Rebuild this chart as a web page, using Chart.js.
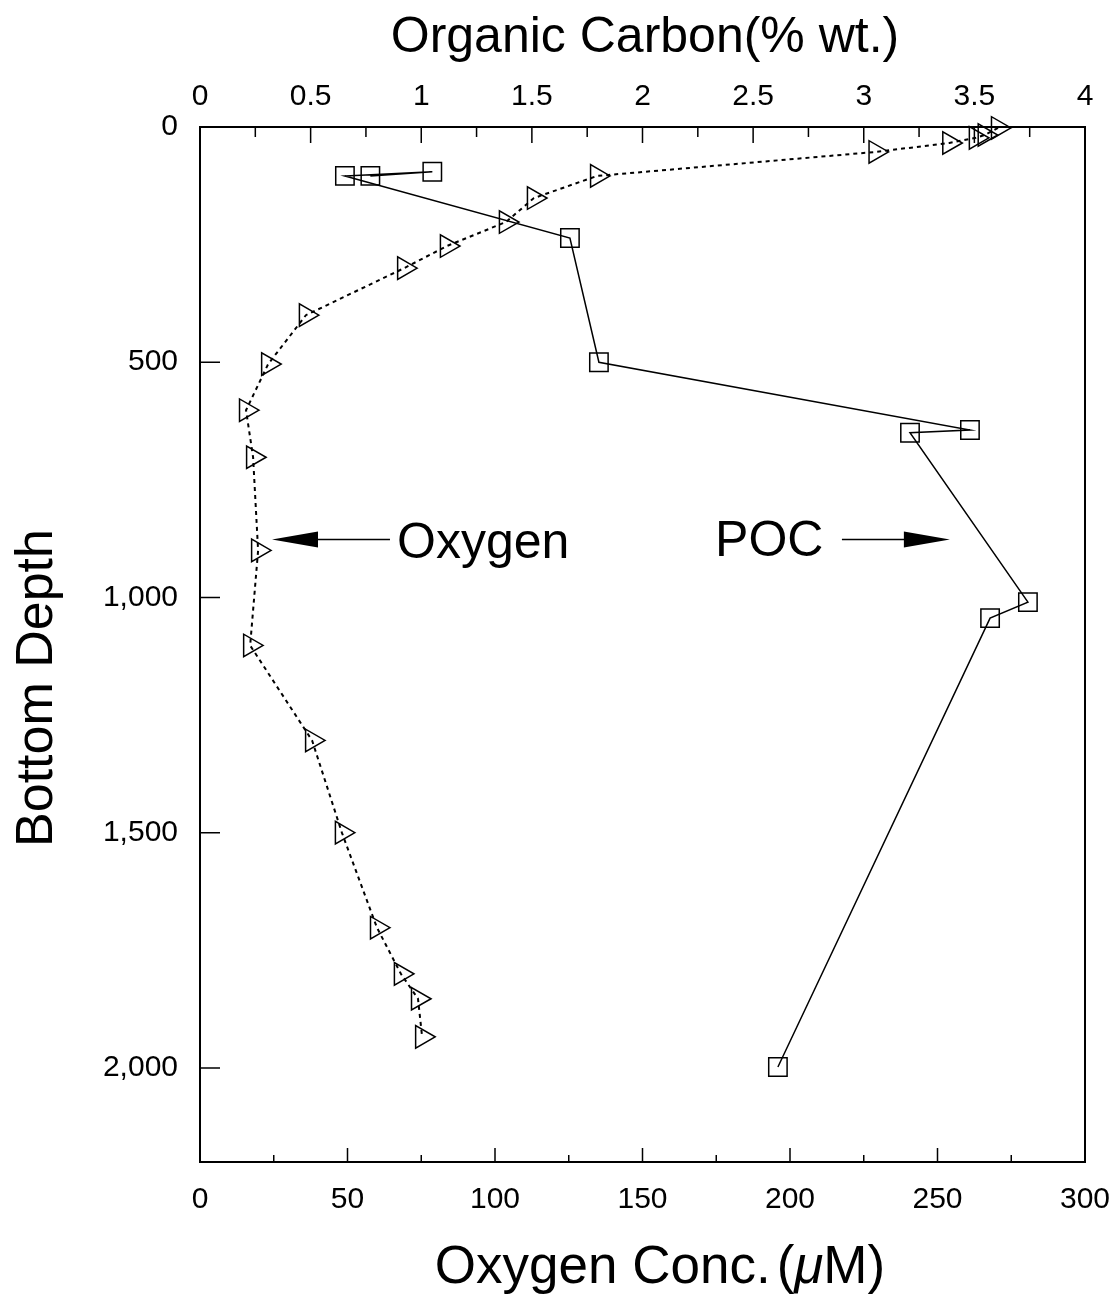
<!DOCTYPE html>
<html>
<head>
<meta charset="utf-8">
<script src="https://cdn.jsdelivr.net/npm/chart.js@4.4.0/dist/chart.umd.min.js"></script>
<style>
  html, body { margin: 0; padding: 0; background: #fff; }
</style>
</head>
<body>
<canvas id="myChart" width="1118" height="1300"></canvas>
<script>
// oxygen profile (bottom axis, uM) vs bottom depth
const oxygenConc  = [270.5, 266, 263, 254, 229, 134.6, 113.2, 103.7, 83.7, 69.2, 35.9, 23.1, 15.6, 18.0, 19.7, 17.0, 38.0, 48.1, 60.0, 68.1, 73.9, 75.3]
const oxygenDepth = [2, 17, 23, 34, 53, 104, 151, 202, 253, 300, 400, 504, 602, 702, 900, 1102, 1304, 1500, 1702, 1800, 1853, 1934]

// particulate organic carbon (top axis, % wt.) vs bottom depth
const pocCarbon = [0.77, 1.05, 0.655, 1.672, 1.803, 3.48, 3.209, 3.742, 3.571, 2.612]
const pocDepth  = [104, 95, 104, 236, 500, 644, 650, 1010, 1044, 1998]

const depthTicks   = [0, 500, 1000, 1500, 2000]
const oxygenTicks  = [0, 50, 100, 150, 200, 250, 300]
const oxygenMinor  = [25, 75, 125, 175, 225, 275]
const carbonTicks  = [0, 0.5, 1, 1.5, 2, 2.5, 3, 3.5, 4]
const carbonMinor  = [0.25, 0.75, 1.25, 1.75, 2.25, 2.75, 3.25, 3.75]

const FONT = '"Liberation Sans", Arial, Helvetica, sans-serif'
Chart.defaults.font.family = FONT
Chart.defaults.color = '#000'

// frame, inward tick marks, axis titles and the two arrow notes
const decorations = {
    id: 'decorations',
    afterDraw(chart) {
        const ctx = chart.ctx
        const a = chart.chartArea
        const sx = chart.scales.x, sx2 = chart.scales.x2, sy = chart.scales.y
        ctx.save()
        ctx.strokeStyle = '#000'
        ctx.fillStyle = '#000'

        ctx.lineWidth = 2
        ctx.strokeRect(a.left, a.top, a.right - a.left, a.bottom - a.top)

        ctx.lineWidth = 1.5
        ctx.beginPath()
        depthTicks.forEach(v => {
            const y = sy.getPixelForValue(v)
            ctx.moveTo(a.left, y); ctx.lineTo(a.left + 20, y)
        })
        oxygenTicks.forEach(v => {
            const x = sx.getPixelForValue(v)
            ctx.moveTo(x, a.bottom); ctx.lineTo(x, a.bottom - 14)
        })
        oxygenMinor.forEach(v => {
            const x = sx.getPixelForValue(v)
            ctx.moveTo(x, a.bottom); ctx.lineTo(x, a.bottom - 7)
        })
        carbonTicks.forEach(v => {
            const x = sx2.getPixelForValue(v)
            ctx.moveTo(x, a.top); ctx.lineTo(x, a.top + 16)
        })
        carbonMinor.forEach(v => {
            const x = sx2.getPixelForValue(v)
            ctx.moveTo(x, a.top); ctx.lineTo(x, a.top + 10)
        })
        ctx.stroke()

        // axis titles
        ctx.font = '50px ' + FONT
        ctx.textAlign = 'center'
        ctx.textBaseline = 'alphabetic'
        ctx.fillText('Organic Carbon(% wt.)', 645, 52)

        ctx.save()
        ctx.font = '52px ' + FONT
        ctx.translate(52, 688)
        ctx.rotate(-Math.PI / 2)
        ctx.fillText('Bottom Depth', 0, 0)
        ctx.restore()

        const parts = [['Oxygen Conc.', ''], ['(', ''], ['\u03bc', 'italic '], ['M)', '']]
        const gap = 6
        let total = gap
        parts.forEach(p => { ctx.font = p[1] + '53px ' + FONT; total += ctx.measureText(p[0]).width })
        let px = 660 - total / 2
        ctx.textAlign = 'left'
        parts.forEach((p, i) => {
            ctx.font = p[1] + '53px ' + FONT
            ctx.fillText(p[0], px, 1283)
            px += ctx.measureText(p[0]).width + (i === 0 ? gap : 0)
        })

        // arrow notes, placed in data units
        const arrow = (x0, x1, y) => {
            const dir = Math.sign(x1 - x0)
            ctx.lineWidth = 1.5
            ctx.beginPath(); ctx.moveTo(x0, y); ctx.lineTo(x1 - dir * 40, y); ctx.stroke()
            ctx.beginPath()
            ctx.moveTo(x1, y)
            ctx.lineTo(x1 - dir * 46, y - 8)
            ctx.lineTo(x1 - dir * 46, y + 8)
            ctx.closePath(); ctx.fill()
        }
        ctx.font = '50px ' + FONT
        ctx.textBaseline = 'middle'
        ctx.textAlign = 'left'
        const ny = sy.getPixelForValue(877)
        ctx.fillText('Oxygen', sx.getPixelForValue(66.8), ny + 5)
        arrow(sx.getPixelForValue(64.4), sx.getPixelForValue(24.4), ny)
        ctx.fillText('POC', sx.getPixelForValue(174.6), ny + 3)
        arrow(sx.getPixelForValue(217.6), sx.getPixelForValue(254.2), ny)

        ctx.restore()
    }
}

const tickFont = { size: 30 }
const noSidePad = s => { s.paddingLeft = 0; s.paddingRight = 0 }

new Chart(document.getElementById('myChart'), {
    type: 'scatter',
    data: {
        datasets: [{
            label: 'Oxygen',
            data: oxygenConc.map((v, i) => ({ x: v, y: oxygenDepth[i] })),
            xAxisID: 'x',
            showLine: true,
            borderColor: '#000',
            borderWidth: 2,
            borderDash: [4, 4],
            backgroundColor: 'rgba(0,0,0,0)',
            pointStyle: 'triangle',
            pointRotation: 90,
            pointRadius: 13,
            pointBorderWidth: 1.5,
            pointBorderColor: '#000',
            clip: false
        }, {
            label: 'POC',
            data: pocCarbon.map((v, i) => ({ x: v, y: pocDepth[i] })),
            xAxisID: 'x2',
            showLine: true,
            borderColor: '#000',
            borderWidth: 1.5,
            backgroundColor: 'rgba(0,0,0,0)',
            pointStyle: 'rect',
            pointRadius: 13,
            pointBorderWidth: 1.5,
            pointBorderColor: '#000',
            clip: false
        }]
    },
    options: {
        responsive: false,
        animation: false,
        devicePixelRatio: 1,
        layout: { padding: { right: 33 } },
        plugins: {
            legend: { display: false },
            tooltip: { enabled: false }
        },
        scales: {
            x: {
                type: 'linear',
                position: 'bottom',
                min: 0,
                max: 300,
                afterBuildTicks: s => { s.ticks = oxygenTicks.map(v => ({ value: v })) },
                afterFit: s => { s.height = 138; noSidePad(s) },
                grid: { display: false, drawTicks: false },
                border: { display: false },
                ticks: { font: tickFont, padding: 20, maxRotation: 0, autoSkip: false }
            },
            x2: {
                type: 'linear',
                position: 'top',
                min: 0,
                max: 4,
                afterBuildTicks: s => { s.ticks = carbonTicks.map(v => ({ value: v })) },
                afterFit: s => { s.height = 127; noSidePad(s) },
                grid: { display: false, drawTicks: false },
                border: { display: false },
                ticks: {
                    font: tickFont,
                    padding: 12,
                    maxRotation: 0,
                    autoSkip: false,
                    callback: v => String(v)
                }
            },
            y: {
                type: 'linear',
                reverse: true,
                min: 0,
                max: 2200,
                afterBuildTicks: s => { s.ticks = depthTicks.map(v => ({ value: v })) },
                afterFit: s => { s.width = 200; s.paddingTop = 0; s.paddingBottom = 0 },
                grid: { display: false, drawTicks: false },
                border: { display: false },
                ticks: {
                    font: tickFont,
                    padding: 22,
                    autoSkip: false,
                    callback: v => v.toLocaleString('en-US')
                }
            }
        }
    },
    plugins: [decorations]
})
</script>
</body>
</html>
